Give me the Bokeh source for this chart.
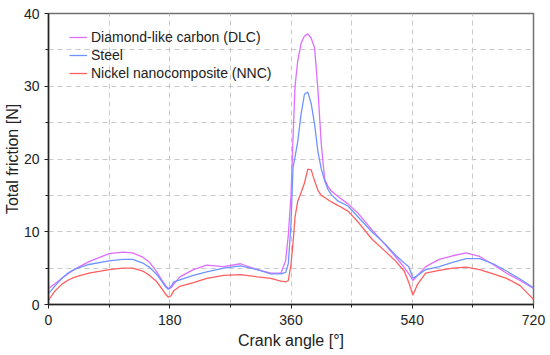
from bokeh.plotting import figure
from bokeh.models import FixedTicker, Legend, LegendItem, Range1d
from bokeh.embed import file_html
from bokeh.resources import INLINE

angles = [0, 10, 20, 30, 40, 60, 90, 110, 125, 140, 150, 160, 168, 174, 178, 182, 186, 195, 215, 235, 260, 285, 310, 330, 345,
          352, 356, 360, 363, 366, 370, 375, 380, 385, 390, 395, 400, 405, 410, 415, 420, 430, 445,
          460, 480, 500, 515, 528, 535, 541, 548, 560, 580, 600, 620, 640, 660, 680, 700, 720]

dlc = [2.2, 2.9, 3.6, 4.3, 4.9, 5.9, 7.0, 7.2, 7.1, 6.5, 5.8, 4.6, 3.4, 2.6, 2.2, 2.3, 2.8, 3.8, 4.8, 5.4, 5.2, 5.6, 4.8, 4.3, 4.3,
       6.0, 9.5, 15.0, 23.0, 30.0, 33.5, 35.9, 36.9, 37.2, 36.6, 35.3, 29.5, 22.0, 17.2, 16.2, 15.6, 14.8, 13.8,
       12.5, 10.3, 8.2, 6.6, 5.1, 4.2, 3.3, 4.0, 5.2, 6.2, 6.7, 7.1, 6.6, 5.5, 4.3, 3.3, 2.2]

steel = [1.5, 2.6, 3.6, 4.4, 4.9, 5.5, 6.0, 6.2, 6.2, 5.7, 5.1, 4.2, 3.2, 2.4, 2.1, 2.5, 3.1, 3.4, 4.0, 4.5, 5.0, 5.3, 4.8, 4.2, 4.2,
         4.4, 5.6, 11.0, 18.8, 20.3, 22.4, 26.2, 28.9, 29.2, 27.6, 24.8, 21.0, 18.6, 17.0, 15.8, 15.1, 14.2, 13.5,
         12.0, 10.0, 8.3, 6.8, 5.7, 5.2, 3.6, 4.0, 4.8, 5.2, 5.8, 6.3, 6.3, 5.6, 4.6, 3.5, 2.3]

nnc = [0.6, 1.9, 2.8, 3.4, 3.8, 4.3, 4.8, 5.0, 5.0, 4.6, 4.0, 3.2, 2.2, 1.4, 1.0, 1.2, 1.9, 2.5, 3.0, 3.6, 4.0, 4.1, 3.8, 3.6, 3.2,
       3.1, 3.3, 5.5, 8.5, 12.0, 14.2, 15.4, 16.7, 18.6, 18.5, 17.0, 15.7, 15.0, 14.7, 14.4, 14.1, 13.6, 12.8,
       11.3, 9.0, 7.3, 6.0, 4.6, 3.0, 1.3, 2.8, 4.3, 4.7, 5.0, 5.15, 4.8, 4.2, 3.6, 2.6, 0.7]

series_names = ["Diamond-like carbon (DLC)", "Steel", "Nickel nanocomposite (NNC)"]
series_colors = ["#df6dff", "#6f94ff", "#ff5f5f"]

x_ticks = [0, 180, 360, 540, 720]
x_minor = [90, 270, 450, 630]
y_ticks = [0, 10, 20, 30, 40]
y_minor = [5, 15, 25, 35]

FONT = "Liberation Sans"

p = figure(frame_width=485, frame_height=291, output_backend="svg", toolbar_location=None,
           x_range=Range1d(0, 720), y_range=Range1d(0, 40),
           min_border_left=40, min_border_right=16, min_border_top=13, min_border_bottom=51)

p.outline_line_color = "#707070"
p.outline_line_width = 1.5
p.background_fill_color = "white"
p.border_fill_color = "white"

renderers = []
for ys, c in zip([dlc, steel, nnc], series_colors):
    r = p.line(angles, ys, line_color=c, line_width=1.3)
    renderers.append(r)

legend = Legend(items=[LegendItem(label=n, renderers=[r]) for n, r in zip(series_names, renderers)],
                location=(15, 216))
legend.background_fill_alpha = 0
legend.border_line_alpha = 0
legend.label_text_font = FONT
legend.label_text_font_size = "14px"
legend.label_text_color = "#222222"
legend.glyph_width = 18
legend.label_standoff = 4
legend.spacing = 0
legend.label_height = 18
legend.glyph_height = 18
legend.margin = 0
legend.padding = 6
p.add_layout(legend)

p.xgrid.ticker = FixedTicker(ticks=sorted(x_ticks + x_minor))
p.ygrid.ticker = FixedTicker(ticks=sorted(y_ticks + y_minor))
for g in (p.xgrid, p.ygrid):
    g.grid_line_color = "#c8c8c8"
    g.grid_line_dash = "5 4"
    g.grid_line_width = 1

p.xaxis.ticker = FixedTicker(ticks=x_ticks, minor_ticks=x_minor)
p.yaxis.ticker = FixedTicker(ticks=y_ticks, minor_ticks=y_minor)

for ax in (p.xaxis, p.yaxis):
    ax.axis_line_color = "#222222"
    ax.axis_line_width = 1.5
    ax.major_tick_line_color = "#222222"
    ax.minor_tick_line_color = "#222222"
    ax.major_tick_out = 4
    ax.major_tick_in = 0
    ax.minor_tick_out = 3
    ax.minor_tick_in = 0
    ax.major_label_text_font = FONT
    ax.major_label_text_font_size = "14px"
    ax.major_label_text_color = "#222222"
    ax.axis_label_text_font = FONT
    ax.axis_label_text_font_size = "16px"
    ax.axis_label_text_font_style = "normal"
    ax.axis_label_text_color = "#222222"

p.xaxis.axis_label = "Crank angle [°]"
p.yaxis.axis_label = "Total friction [N]"
p.xaxis.major_label_standoff = 6
p.yaxis.major_label_standoff = 5
p.xaxis.axis_label_standoff = 4
p.yaxis.axis_label_standoff = 0

open("out.html", "w").write(file_html(p, INLINE))
